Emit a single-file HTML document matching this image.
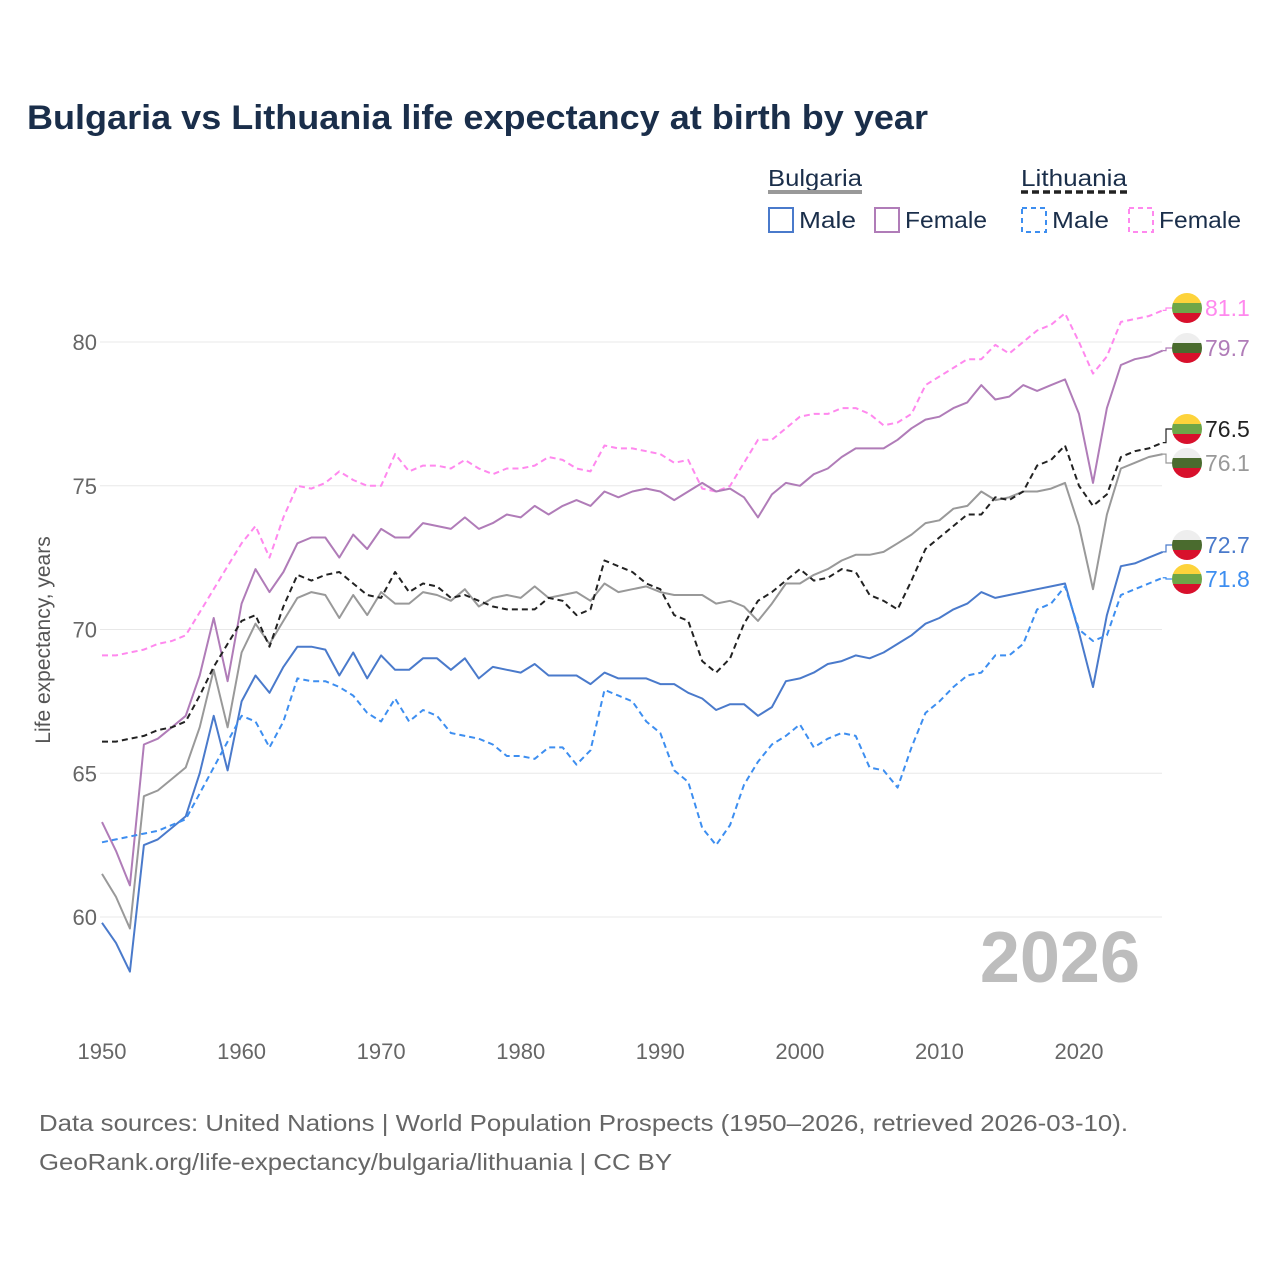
<!DOCTYPE html>
<html><head><meta charset="utf-8">
<style>
body{margin:0;background:#fff;font-family:"Liberation Sans",sans-serif;}
svg text{font-family:"Liberation Sans",sans-serif;}
</style></head>
<body>
<svg id="chart" width="1280" height="1280" xmlns="http://www.w3.org/2000/svg">
<rect width="1280" height="1280" fill="#fff"/>
<text x="27" y="129" font-size="34" font-weight="bold" fill="#1a2e4a" textLength="901" lengthAdjust="spacingAndGlyphs">Bulgaria vs Lithuania life expectancy at birth by year</text>
<g font-size="23" fill="#1a2e4a">
<text x="768" y="186" textLength="94" lengthAdjust="spacingAndGlyphs">Bulgaria</text>
<line x1="768" y1="192" x2="862" y2="192" stroke="#999" stroke-width="4"/>
<text x="1021" y="186" textLength="106" lengthAdjust="spacingAndGlyphs">Lithuania</text>
<line x1="1021" y1="192" x2="1127" y2="192" stroke="#222" stroke-width="3.5" stroke-dasharray="7,4"/>
<rect x="769" y="208" width="24" height="24" fill="none" stroke="#4a7acb" stroke-width="2"/>
<text x="799" y="228" textLength="57" lengthAdjust="spacingAndGlyphs">Male</text>
<rect x="875" y="208" width="24" height="24" fill="none" stroke="#b07cb8" stroke-width="2"/>
<text x="905" y="228" textLength="82" lengthAdjust="spacingAndGlyphs">Female</text>
<rect x="1022" y="208" width="24" height="24" fill="none" stroke="#3d8ef0" stroke-width="2" stroke-dasharray="5,4"/>
<text x="1052" y="228" textLength="57" lengthAdjust="spacingAndGlyphs">Male</text>
<rect x="1129" y="208" width="24" height="24" fill="none" stroke="#ff88ee" stroke-width="2" stroke-dasharray="5,4"/>
<text x="1159" y="228" textLength="82" lengthAdjust="spacingAndGlyphs">Female</text>
</g>
<g id="grid"></g>
<text x="1140" y="982" font-size="72" font-weight="bold" fill="#bdbdbd" text-anchor="end">2026</text>
<g id="series"></g>
<g id="labels"></g>
<text transform="translate(50,640) rotate(-90)" font-size="21" fill="#555" text-anchor="middle">Life expectancy, years</text>
<text x="39" y="1131" font-size="23" fill="#666" textLength="1089" lengthAdjust="spacingAndGlyphs">Data sources: United Nations | World Population Prospects (1950–2026, retrieved 2026-03-10).</text>
<text x="39" y="1170" font-size="23" fill="#666" textLength="633" lengthAdjust="spacingAndGlyphs">GeoRank.org/life-expectancy/bulgaria/lithuania | CC BY</text>
</svg>
<script>
const startYear = 1950;
const yTicks = [60, 65, 70, 75, 80];
const xTicks = [1950, 1960, 1970, 1980, 1990, 2000, 2010, 2020];
const ltFemale = [69.1,69.1,69.2,69.3,69.5,69.6,69.8,70.6,71.4,72.2,73.0,73.6,72.5,73.9,75.0,74.9,75.1,75.5,75.2,75.0,75.0,76.1,75.5,75.7,75.7,75.6,75.9,75.6,75.4,75.6,75.6,75.7,76.0,75.9,75.6,75.5,76.4,76.3,76.3,76.2,76.1,75.8,75.9,74.9,74.8,75.0,75.8,76.6,76.6,77.0,77.4,77.5,77.5,77.7,77.7,77.5,77.1,77.2,77.5,78.5,78.8,79.1,79.4,79.4,79.9,79.6,80.0,80.4,80.6,81.0,80.0,78.9,79.5,80.7,80.8,80.9,81.1];
const bgFemale = [63.3,62.3,61.1,66.0,66.2,66.6,67.0,68.4,70.4,68.2,70.9,72.1,71.3,72.0,73.0,73.2,73.2,72.5,73.3,72.8,73.5,73.2,73.2,73.7,73.6,73.5,73.9,73.5,73.7,74.0,73.9,74.3,74.0,74.3,74.5,74.3,74.8,74.6,74.8,74.9,74.8,74.5,74.8,75.1,74.8,74.9,74.6,73.9,74.7,75.1,75.0,75.4,75.6,76.0,76.3,76.3,76.3,76.6,77.0,77.3,77.4,77.7,77.9,78.5,78.0,78.1,78.5,78.3,78.5,78.7,77.5,75.1,77.7,79.2,79.4,79.5,79.7];
const ltTotal = [66.1,66.1,66.2,66.3,66.5,66.6,66.8,67.7,68.7,69.5,70.3,70.5,69.4,70.8,71.9,71.7,71.9,72.0,71.6,71.2,71.1,72.0,71.3,71.6,71.5,71.1,71.2,71.0,70.8,70.7,70.7,70.7,71.1,71.0,70.5,70.7,72.4,72.2,72.0,71.6,71.4,70.5,70.3,68.9,68.5,69.0,70.2,71.0,71.3,71.7,72.1,71.7,71.8,72.1,72.0,71.2,71.0,70.7,71.7,72.8,73.2,73.6,74.0,74.0,74.6,74.5,74.8,75.7,75.9,76.4,75.0,74.3,74.7,76.0,76.2,76.3,76.5];
const bgTotal = [61.5,60.7,59.6,64.2,64.4,64.8,65.2,66.6,68.6,66.6,69.2,70.2,69.5,70.3,71.1,71.3,71.2,70.4,71.2,70.5,71.3,70.9,70.9,71.3,71.2,71.0,71.4,70.8,71.1,71.2,71.1,71.5,71.1,71.2,71.3,71.0,71.6,71.3,71.4,71.5,71.3,71.2,71.2,71.2,70.9,71.0,70.8,70.3,70.9,71.6,71.6,71.9,72.1,72.4,72.6,72.6,72.7,73.0,73.3,73.7,73.8,74.2,74.3,74.8,74.5,74.6,74.8,74.8,74.9,75.1,73.6,71.4,74.0,75.6,75.8,76.0,76.1];
const bgMale = [59.8,59.1,58.1,62.5,62.7,63.1,63.5,65.0,67.0,65.1,67.5,68.4,67.8,68.7,69.4,69.4,69.3,68.4,69.2,68.3,69.1,68.6,68.6,69.0,69.0,68.6,69.0,68.3,68.7,68.6,68.5,68.8,68.4,68.4,68.4,68.1,68.5,68.3,68.3,68.3,68.1,68.1,67.8,67.6,67.2,67.4,67.4,67.0,67.3,68.2,68.3,68.5,68.8,68.9,69.1,69.0,69.2,69.5,69.8,70.2,70.4,70.7,70.9,71.3,71.1,71.2,71.3,71.4,71.5,71.6,69.9,68.0,70.5,72.2,72.3,72.5,72.7];
const ltMale = [62.6,62.7,62.8,62.9,63.0,63.2,63.4,64.3,65.2,66.1,67.0,66.8,65.9,66.8,68.3,68.2,68.2,68.0,67.7,67.1,66.8,67.6,66.8,67.2,67.0,66.4,66.3,66.2,66.0,65.6,65.6,65.5,65.9,65.9,65.3,65.8,67.9,67.7,67.5,66.8,66.4,65.1,64.7,63.1,62.5,63.2,64.6,65.4,66.0,66.3,66.7,65.9,66.2,66.4,66.3,65.2,65.1,64.5,65.9,67.1,67.5,68.0,68.4,68.5,69.1,69.1,69.5,70.7,70.9,71.5,70.0,69.6,69.8,71.2,71.4,71.6,71.8];

const NS = "http://www.w3.org/2000/svg";
function xs(yr){ return 102 + (yr - 1950) * (1079 - 102) / 70; }
function ys(v){ return 917 - (v - 60) * (917 - 342) / 20; }
function mk(tag, attrs, parent){ const e = document.createElementNS(NS, tag); for (const k in attrs) e.setAttribute(k, attrs[k]); parent.appendChild(e); return e; }

const grid = document.getElementById('grid');
yTicks.forEach(t => {
  const l = mk('line', {x1: 100, x2: 1162, y1: ys(t), y2: ys(t), stroke: '#e8e8e8', 'stroke-width': 1}, grid);
  
  
  const tx = mk('text', {x: 97, y: ys(t) + 8, 'font-size': 22, fill: '#666', 'text-anchor': 'end'}, grid);
  tx.textContent = t;
  
  
});
xTicks.forEach(t => {
  const tx = mk('text', {x: xs(t), y: 1059, 'font-size': 22, fill: '#666', 'text-anchor': 'middle'}, grid);
  tx.textContent = t;
  
  
});

const seriesG = document.getElementById('series');
const labelsG = document.getElementById('labels');
const defs = [
  {data: ltFemale, color: '#ff88ee', dash: '6,4', name: 'line-lithuania-female', flag: 'lt', ly: 308},
  {data: bgFemale, color: '#b07cb8', dash: '', name: 'line-bulgaria-female', flag: 'bg', ly: 348},
  {data: bgTotal, color: '#999999', dash: '', name: 'line-bulgaria-total', flag: 'bg', ly: 463},
  {data: ltTotal, color: '#222222', dash: '6,4', name: 'line-lithuania-total', flag: 'lt', ly: 429},
  {data: bgMale, color: '#4a7acb', dash: '', name: 'line-bulgaria-male', flag: 'bg', ly: 545},
  {data: ltMale, color: '#3d8ef0', dash: '6,4', name: 'line-lithuania-male', flag: 'lt', ly: 579}
];
defs.forEach(d => {
  const pts = d.data.map((v, i) => xs(startYear + i).toFixed(1) + ',' + ys(v).toFixed(1)).join(' ');
  const p = mk('polyline', {points: pts, fill: 'none', stroke: d.color, 'stroke-width': 2, 'stroke-dasharray': d.dash, 'stroke-linejoin': 'round'}, seriesG);
  
  
  const last = d.data[d.data.length - 1];
  const ex = xs(startYear + d.data.length - 1), ey = ys(last);
  const c = mk('polyline', {points: `${ex},${ey} 1166,${ey} 1166,${d.ly} 1172,${d.ly}`, fill: 'none', stroke: d.color, 'stroke-width': 1.2}, labelsG);
  
  
  const cx = 1187, cy = d.ly, r = 15;
  const g = mk('g', {}, labelsG);
  
  
  const cols = d.flag === 'lt' ? ['#fdd33b', '#6ea648', '#d8102c'] : ['#eeeeee', '#4a6b2e', '#d8102c'];
  const cpId = 'cp' + d.name;
  const cp = mk('clipPath', {id: cpId}, g);
  mk('circle', {cx: cx, cy: cy, r: r}, cp);
  cols.forEach((col, k) => mk('rect', {x: cx - r, y: cy - r + k * 10, width: 2 * r, height: 10, fill: col, 'clip-path': `url(#${cpId})`}, g));
  const t = mk('text', {x: 1205, y: d.ly + 8, 'font-size': 23, fill: d.color}, labelsG);
  t.textContent = last.toFixed(1);
  
  
});
</script>
</body></html>
